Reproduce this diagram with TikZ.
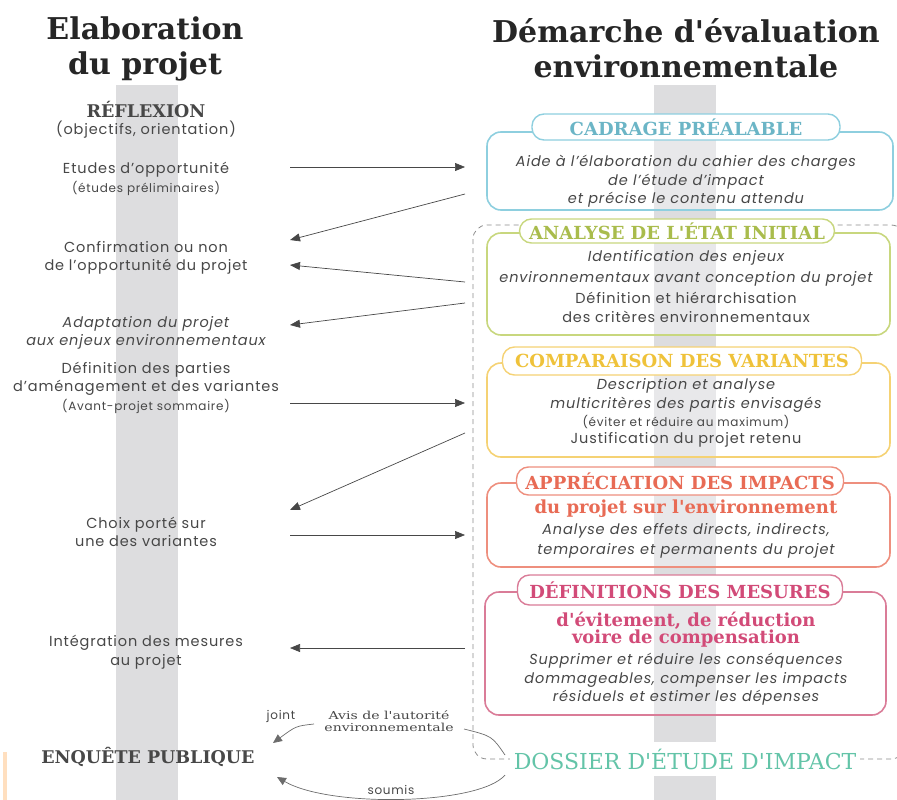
\documentclass[tikz,border=0pt]{standalone}
\usepackage{fontspec}
\setmainfont{Poppins}[LetterSpace=6]
\newfontfamily\slab{DejaVu Serif}
\newfontfamily\slabwide{DejaVu Serif}[FakeStretch=1.28]
\usetikzlibrary{arrows.meta}

\definecolor{ink}{HTML}{474747}
\definecolor{band}{HTML}{DDDDDF}
\definecolor{linegray}{HTML}{8C8C8C}
\definecolor{cadB}{HTML}{8ECFDF}
\definecolor{cadT}{HTML}{6BB5C6}
\definecolor{anaB}{HTML}{C8D77E}
\definecolor{anaT}{HTML}{A9BC4C}
\definecolor{comB}{HTML}{F5D274}
\definecolor{comT}{HTML}{EFC23A}
\definecolor{appB}{HTML}{EE8F7E}
\definecolor{appT}{HTML}{E86B55}
\definecolor{defB}{HTML}{DA7C98}
\definecolor{defT}{HTML}{D24B78}
\definecolor{dosT}{HTML}{63C4A8}

\newcommand\bodysize{\fontsize{14.5}{18.5}\selectfont}
\newcommand\smallsize{\fontsize{12}{14}\selectfont}
\newcommand\titlesize{\slab\bfseries\fontsize{18}{19}\selectfont}

\tikzset{
  panel/.style={line width=1.6pt, rounded corners=14pt, fill=white, fill opacity=0.35},
  pill/.style={line width=1.4pt, fill=white, rounded corners=12pt, inner sep=0pt,
    font=\titlesize},
  heading/.style={align=center, text=black!85, font=\slab\bfseries\fontsize{30}{35.5}\selectfont},
  lefttxt/.style={align=center, text=ink, font=\bodysize, inner sep=0pt},
  linetxt/.style={text=ink, font=\bodysize, inner sep=0pt},
  flow/.style={draw=ink, line width=0.7pt, -{Triangle[length=10pt,width=8pt]}},
  loop/.style={draw=ink!80, line width=0.7pt},
  dashframe/.style={draw=linegray, line width=0.8pt, dash pattern=on 5pt off 4pt, rounded corners=14pt},
}

\begin{document}
\begin{tikzpicture}[x=1pt,y=-1pt]
\useasboundingbox (0,0) rectangle (897,800);

% grey vertical bands of the two columns
\fill[band] (116,85) rectangle (178,800);
\fill[band] (654,85) rectangle (716,800);
\fill[orange!25] (3,752) rectangle (7,800);

% column headings
\node[heading] (hleft) at (145,49) {Elaboration\\du projet};
\node[heading] (hright) at (686,48) {Démarche d'évaluation\\environnementale};

% project steps (left column)
\node[text=ink, font=\slab\bfseries\fontsize{17.5}{18}\selectfont] (reflex) at (146,110) {RÉFLEXION};
\node[lefttxt] (objectifs) at (146,130) {(objectifs, orientation)};
\node[lefttxt] (etudes) at (146,170) {Etudes d'opportunité};
\node[lefttxt, font=\smallsize] (prelim) at (146,188) {(études préliminaires)};
\node[lefttxt] (confirm) at (146,258) {Confirmation ou non\\de l'opportunité du projet};
\node[lefttxt, font=\bodysize\itshape] (adapt) at (146,333) {Adaptation du projet\\aux enjeux environnementaux};
\node[lefttxt] (partis) at (146,379) {Définition des parties\\d'aménagement et des variantes};
\node[lefttxt, font=\smallsize] (avp) at (146,406) {(Avant-projet sommaire)};
\node[lefttxt] (choix) at (146,532) {Choix porté sur\\une des variantes};
\node[lefttxt] (integ) at (146,652) {Intégration des mesures\\au projet};
\node[text=ink, font=\slab\bfseries\fontsize{17.5}{18}\selectfont] (enquete) at (148,757) {ENQUÊTE PUBLIQUE};

% dashed frame of the impact study file
\draw[dashframe] (473,225) rectangle (905,759);

% CADRAGE PREALABLE
\draw[panel, draw=cadB] (487,132) rectangle (893,210);
\node[pill, draw=cadB, minimum width=308pt, minimum height=26pt, text=cadT] (cadrage) at (686,127) {CADRAGE PRÉALABLE};
\node[linetxt, font=\bodysize\itshape] (c1) at (686,163) {Aide à l'élaboration du cahier des charges};
\node[linetxt, font=\bodysize\itshape] (c2) at (686,182) {de l'étude d'impact};
\node[linetxt, font=\bodysize\itshape] (c3) at (686,200) {et précise le contenu attendu};

% ANALYSE DE L'ETAT INITIAL
\draw[panel, draw=anaB] (487,233) rectangle (890,335);
\node[pill, draw=anaB, minimum width=315pt, minimum height=24pt, text=anaT] (analyse) at (677,231) {ANALYSE DE L'ÉTAT INITIAL};
\node[linetxt, font=\bodysize\itshape] (a1) at (686,258) {Identification des enjeux};
\node[linetxt, font=\bodysize\itshape] (a2) at (686,279) {environnementaux avant conception du projet};
\node[linetxt] (a3) at (686,298) {Définition et hiérarchisation};
\node[linetxt] (a4) at (686,317) {des critères environnementaux};

% COMPARAISON DES VARIANTES
\draw[panel, draw=comB] (487,363) rectangle (890,457);
\node[pill, draw=comB, minimum width=359pt, minimum height=28pt, text=comT] (compar) at (682,361) {COMPARAISON DES VARIANTES};
\node[linetxt, font=\bodysize\itshape] (v1) at (686,386) {Description et analyse};
\node[linetxt, font=\bodysize\itshape] (v2) at (686,405) {multicritères des partis envisagés};
\node[linetxt, font=\smallsize] (v3) at (686,422) {(éviter et réduire au maximum)};
\node[linetxt] (v4) at (686,440) {Justification du projet retenu};

% APPRECIATION DES IMPACTS
\draw[panel, draw=appB] (487,483) rectangle (890,567);
\node[pill, draw=appB, minimum width=327pt, minimum height=28pt, text=appT] (apprec) at (680,481) {APPRÉCIATION DES IMPACTS};
\node[linetxt, text=appT, font=\titlesize] (p1) at (686,509) {du projet sur l'environnement};
\node[linetxt, font=\bodysize\itshape] (p2) at (686,531) {Analyse des effets directs, indirects,};
\node[linetxt, font=\bodysize\itshape] (p3) at (686,551) {temporaires et permanents du projet};

% DEFINITIONS DES MESURES
\draw[panel, draw=defB] (485,592) rectangle (886,715);
\node[pill, draw=defB, minimum width=325pt, minimum height=30pt, text=defT] (mesures) at (680,590) {DÉFINITIONS DES MESURES};
\node[linetxt, text=defT, font=\titlesize] (m1) at (686,621) {d'évitement, de réduction};
\node[linetxt, text=defT, font=\titlesize] (m2) at (686,639) {voire de compensation};
\node[linetxt, font=\bodysize\itshape] (m3) at (686,661) {Supprimer et réduire les conséquences};
\node[linetxt, font=\bodysize\itshape] (m4) at (686,680) {dommageables, compenser les impacts};
\node[linetxt, font=\bodysize\itshape] (m5) at (686,698) {résiduels et estimer les dépenses};

% DOSSIER D'ETUDE D'IMPACT
\node[fill=white, inner xsep=4pt, minimum height=34pt, text=dosT, font=\slab\fontsize{22}{24}\selectfont] (dossier) at (685,759) {DOSSIER D'ÉTUDE D'IMPACT};

% arrow end points between the columns
\coordinate (l1) at (290,167);  \coordinate (r1) at (465,167);
\coordinate (r2) at (465,194);  \coordinate (l2) at (290,240);
\coordinate (r3) at (465,282);  \coordinate (l3) at (290,265);
\coordinate (r4) at (465,303);  \coordinate (l4) at (290,325);
\coordinate (l5) at (290,403);  \coordinate (r5) at (465,403);
\coordinate (r6) at (465,433);  \coordinate (l6) at (290,510);
\coordinate (l7) at (290,535);  \coordinate (r7) at (465,535);
\coordinate (r8) at (465,648);  \coordinate (l8) at (290,648);

\draw[flow] (l1) -- (r1);
\draw[flow] (r2) -- (l2);
\draw[flow] (r3) -- (l3);
\draw[flow] (r4) -- (l4);
\draw[flow] (l5) -- (r5);
\draw[flow] (r6) -- (l6);
\draw[flow] (l7) -- (r7);
\draw[flow] (r8) -- (l8);

% public inquiry loop
\node[text=ink, font=\slabwide\fontsize{11}{12}\selectfont, align=center, inner sep=0pt] (avis) at (389,721) {Avis de l'autorité\\environnementale};
\node[text=ink, font=\smallsize, inner sep=0pt] (joint) at (281,716) {joint};
\node[text=ink, font=\smallsize, inner sep=0pt] (soumis) at (391,790) {soumis};
\coordinate (j0) at (314,724);
\coordinate (j1) at (273,743);
\coordinate (s0) at (464,729);
\coordinate (s1) at (505,755);
\coordinate (s2) at (505,775);
\coordinate (s3) at (277,777);

\draw[loop, -{Triangle[length=9pt,width=8pt]}] (j0) .. controls (296,726) .. (j1);
\draw[loop] (s0) .. controls (492,736) .. (s1);
\draw[loop, -{Triangle[length=9pt,width=8pt]}] (s2) .. controls (480,805) and (330,808) .. (s3);
\end{tikzpicture}
\end{document}
